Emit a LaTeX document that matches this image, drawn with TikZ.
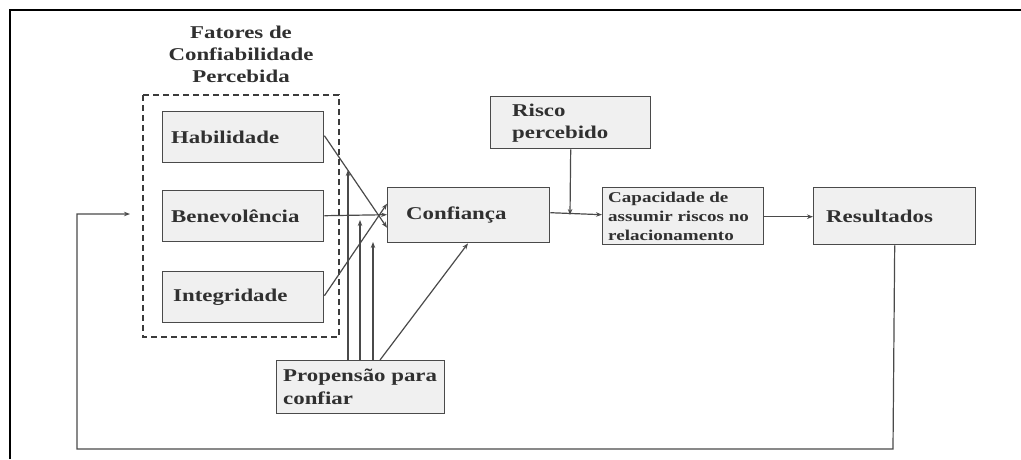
\documentclass[tikz,border=0pt]{standalone}
\usepackage{fontspec}
\setmainfont{Liberation Serif}[FakeStretch=1.27]
\usetikzlibrary{arrows.meta}
\definecolor{ink}{HTML}{303030}
\definecolor{edge}{HTML}{4A4A4A}
\definecolor{boxfill}{HTML}{F0F0F0}

\begin{document}
\begin{tikzpicture}[x=1pt,y=-1pt,
  box/.style={draw=edge, line width=1.4pt, fill=boxfill, inner sep=0pt, anchor=north west},
  lbl/.style={text=ink, font=\fontsize{18}{22}\selectfont\bfseries, align=left, inner sep=0pt, anchor=west},
  small/.style={lbl, font=\fontsize{15}{19}\selectfont\bfseries},
  conn/.style={draw=edge, line width=1.2pt, -{Stealth[length=6pt,width=4.5pt]}},
]
\useasboundingbox (0,0) rectangle (1021,459);
\fill[white] (0,0) rectangle (1021,459);
% page frame
\draw[line width=2pt] (10,459) -- (10,10) -- (1021,10);

% group of perceived trustworthiness factors
\node[lbl, align=center, anchor=center] (title) at (241,54) {Fatores de\\Confiabilidade\\Percebida};
\draw[edge!80!black, line width=1.3pt, dash pattern=on 6pt off 4pt] (143,95) rectangle (339,337);

% boxes
\node[box, minimum width=161pt, minimum height=51pt] (hab) at (162,111) {};
\node[box, minimum width=161pt, minimum height=51pt] (ben) at (162,190) {};
\node[box, minimum width=161pt, minimum height=51pt] (int) at (162,271) {};
\node[box, minimum width=162pt, minimum height=55pt] (conf) at (387,187) {};
\node[box, minimum width=160pt, minimum height=52pt] (risco) at (490,96) {};
\node[box, minimum width=161pt, minimum height=57pt] (cap) at (602,187) {};
\node[box, minimum width=162pt, minimum height=57pt] (res) at (813,187) {};
\node[box, minimum width=168pt, minimum height=53pt] (prop) at (276,360) {};

% labels
\node[lbl] (thab) at ([xshift=9pt]hab.west) {Habilidade};
\node[lbl] (tben) at ([xshift=9pt]ben.west) {Benevolência};
\node[lbl] (tint) at ([xshift=11pt]int.west) {Integridade};
\node[lbl] (tconf) at ([xshift=19pt]conf.west) {Confiança};
\node[lbl] (trisco) at ([xshift=22pt]risco.west) {Risco\\percebido};
\node[small] (tcap) at ([xshift=6pt]cap.west) {Capacidade de\\assumir riscos no\\relacionamento};
\node[lbl] (tres) at ([xshift=13pt]res.west) {Resultados};
\node[lbl, font=\fontsize{18}{23}\selectfont\bfseries] (tprop) at ([xshift=7pt]prop.west) {Propensão para\\confiar};

% factors into trust
\draw[conn] ([yshift=1.5pt]hab.east) -- ([yshift=-12.5pt]conf.west);
\draw[conn] ([yshift=0.5pt]ben.east) -- ([yshift=0.5pt]conf.west);
\draw[conn] ([yshift=1.5pt]int.east) -- ([yshift=11.5pt]conf.west);

% propensity to trust moderates each factor link
\coordinate (p1) at (348,170);
\coordinate (p2) at (360,220);
\coordinate (p3) at (373,242);
\draw[conn] (prop.north -| p1) -- (p1);
\draw[conn] (prop.north -| p2) -- (p2);
\draw[conn] (prop.north -| p3) -- (p3);
\draw[conn] ([xshift=104pt]prop.north west) -- ([xshift=81pt]conf.south west);

% trust -> risk taking -> outcomes
\draw[conn] ([yshift=2.5pt]conf.east) -- ([yshift=1.5pt]cap.west);
\coordinate (rmeet) at (570,215);
\draw[conn] (risco.south) -- (rmeet);
\draw[conn] ([yshift=-0.5pt]cap.east) -- ([yshift=-0.5pt]res.west);

% feedback loop
\coordinate (fb) at (130,214);
\draw[conn] (res.south) -- (893,449) -- (77,449) -- (77,214) -- (fb);
\end{tikzpicture}
\end{document}
